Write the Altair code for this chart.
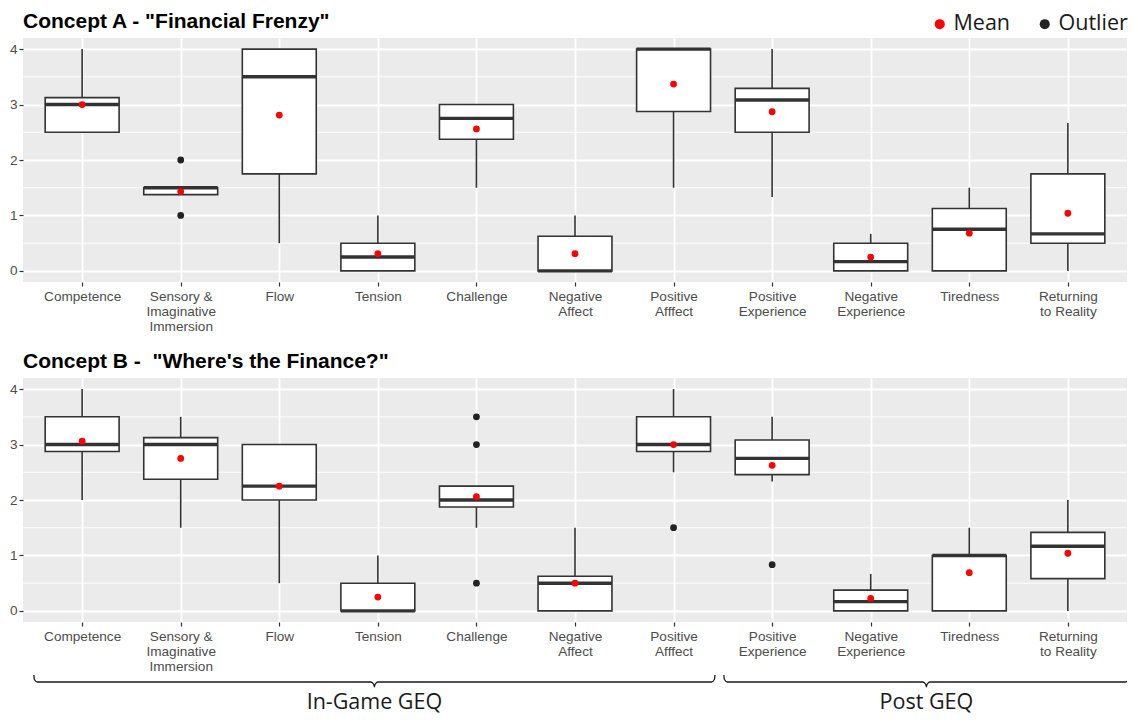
import json
import altair as alt
import pandas as pd

# ---------------- data ----------------
CATEGORIES = ["Competence", "Sensory &|Imaginative|Immersion", "Flow", "Tension", "Challenge",
              "Negative|Affect", "Positive|Afffect", "Positive|Experience", "Negative|Experience",
              "Tiredness", "Returning|to Reality"]
GROUPS = ["In-Game GEQ"] * 7 + ["Post GEQ"] * 4
Y_TICKS = [0, 1, 2, 3, 4]
Y_MINOR = [0.5, 1.5, 2.5, 3.5]

A_TITLE = 'Concept A - "Financial Frenzy"'
A_LOWER = [2.5, 1.375, 0.5, 0.0, 1.5, 0.0, 1.5, 1.333, 0.0, 0.0, 0.0]
A_Q1 = [2.5, 1.375, 1.75, 0.0, 2.375, 0.0, 2.875, 2.5, 0.0, 0.0, 0.5]
A_MEDIAN = [3.0, 1.5, 3.5, 0.25, 2.75, 0.0, 4.0, 3.083, 0.167, 0.75, 0.667]
A_Q3 = [3.125, 1.5, 4.0, 0.5, 3.0, 0.625, 4.0, 3.292, 0.5, 1.125, 1.75]
A_UPPER = [4.0, 1.5, 4.0, 1.0, 3.0, 1.0, 4.0, 4.0, 0.667, 1.5, 2.667]
A_MEAN = [3.0, 1.43, 2.81, 0.31, 2.56, 0.31, 3.37, 2.87, 0.25, 0.68, 1.04]
A_OUTLIER_CAT = ["Sensory &|Imaginative|Immersion", "Sensory &|Imaginative|Immersion"]
A_OUTLIER_VAL = [2.0, 1.0]

B_TITLE = 'Concept B - \u00a0"Where\'s the Finance?"'
B_LOWER = [2.0, 1.5, 0.5, 0.0, 1.5, 0.0, 2.5, 2.333, 0.0, 0.0, 0.0]
B_Q1 = [2.875, 2.375, 2.0, 0.0, 1.875, 0.0, 2.875, 2.458, 0.0, 0.0, 0.583]
B_MEDIAN = [3.0, 3.0, 2.25, 0.0, 2.0, 0.5, 3.0, 2.75, 0.167, 1.0, 1.167]
B_Q3 = [3.5, 3.125, 3.0, 0.5, 2.25, 0.625, 3.5, 3.083, 0.375, 1.0, 1.417]
B_UPPER = [4.0, 3.5, 3.0, 1.0, 2.25, 1.5, 4.0, 3.5, 0.667, 1.5, 2.0]
B_MEAN = [3.06, 2.75, 2.25, 0.25, 2.06, 0.5, 3.0, 2.625, 0.225, 0.69, 1.04]
B_OUTLIER_CAT = ["Challenge", "Challenge", "Challenge", "Positive|Afffect", "Positive|Experience"]
B_OUTLIER_VAL = [3.5, 3.0, 0.5, 1.5, 0.833]

# ---------------- layout / style ----------------
W = 1104
H = 244
BG = "#EBEBEB"
DARK = "#333333"
XDOM = [0.4, len(CATEGORIES) + 0.6]
IDX = list(range(1, len(CATEGORIES) + 1))
# brace end nudges (start, end) in category units
BRACE_NUDGE = {"In-Game GEQ": (0.01, -0.08), "Post GEQ": (0.01, 0.12)}

label_expr = "split(" + json.dumps(CATEGORIES) + "[datum.value - 1], '|')"

x_axis = alt.Axis(values=IDX, labelExpr=label_expr, title=None, grid=True, gridColor="white",
                  gridWidth=1.8, domain=False, tickColor=DARK, tickSize=4, tickWidth=1.2,
                  labelColor="#4d4d4d", labelFontSize=13.6, labelFont="Liberation Sans",
                  labelLineHeight=15.3, labelPadding=3, labelBaseline="top")
y_axis = alt.Axis(values=Y_TICKS, title=None, grid=True, gridColor="white", gridWidth=1.8,
                  domain=False, tickColor=DARK, tickSize=4, tickWidth=1.2,
                  labelColor="#4d4d4d", labelFontSize=13.6, labelFont="Liberation Sans",
                  labelPadding=2)
xs = alt.Scale(domain=XDOM, nice=False, zero=False)
ys = alt.Scale(domain=[-0.2, 4.2], nice=False, zero=False)


def panel(title, lo, q1, med, q3, hi, mean, out_cat, out_val):
    box = pd.DataFrame({"idx": IDX, "lo": lo, "q1": q1, "med": med, "q3": q3, "hi": hi})
    pts = pd.concat([
        pd.DataFrame({"idx": IDX, "val": mean, "kind": "Mean"}),
        pd.DataFrame({"idx": [CATEGORIES.index(c) + 1 for c in out_cat], "val": out_val,
                      "kind": "Outlier"}),
    ])
    minor = pd.DataFrame({"v": Y_MINOR})

    base = alt.Chart(box).transform_calculate(left="datum.idx - 0.375", right="datum.idx + 0.375")

    minor_grid = alt.Chart(minor).mark_rule(color="white", strokeWidth=0.9).encode(
        y=alt.Y("v:Q", scale=ys, axis=y_axis),
        x=alt.value(0), x2=alt.value(W))
    whisk = base.mark_rule(color=DARK, strokeWidth=1.6).encode(
        x=alt.X("idx:Q", scale=xs, axis=x_axis),
        y=alt.Y("lo:Q", scale=ys, axis=y_axis), y2="hi:Q")
    rect = base.mark_rect(fill="white", stroke=DARK, strokeWidth=1.6).encode(
        x=alt.X("left:Q", scale=xs, axis=x_axis), x2="right:Q",
        y=alt.Y("q1:Q", scale=ys, axis=y_axis), y2="q3:Q")
    median = base.mark_rule(color=DARK, strokeWidth=3.4).encode(
        x=alt.X("left:Q", scale=xs, axis=x_axis), x2="right:Q",
        y=alt.Y("med:Q", scale=ys, axis=y_axis))
    points = alt.Chart(pts).mark_circle(opacity=1, size=46).encode(
        x=alt.X("idx:Q", scale=xs, axis=x_axis),
        y=alt.Y("val:Q", scale=ys, axis=y_axis),
        color=alt.Color("kind:N",
                        scale=alt.Scale(domain=["Mean", "Outlier"], range=["#ff0000", "#222222"]),
                        legend=alt.Legend(title=None, orient="none", legendX=W - 198, legendY=-25,
                                          direction="horizontal", labelFont="Open Sans",
                                          labelFontSize=21.5, labelColor="#1a1a1a",
                                          symbolSize=100, symbolType="circle",
                                          symbolStrokeWidth=0, columnPadding=23,
                                          labelOffset=3)))
    return alt.layer(minor_grid, whisk, rect, median, points).properties(
        width=W, height=H,
        title=alt.Title(title, anchor="start", frame="group", fontSize=21,
                        font="Liberation Sans", fontWeight="bold", color="black", offset=6),
        view=alt.ViewBackground(fill=BG, stroke=None))


chart_a = panel(A_TITLE, A_LOWER, A_Q1, A_MEDIAN, A_Q3, A_UPPER, A_MEAN, A_OUTLIER_CAT, A_OUTLIER_VAL)
chart_b = panel(B_TITLE, B_LOWER, B_Q1, B_MEDIAN, B_Q3, B_UPPER, B_MEAN, B_OUTLIER_CAT, B_OUTLIER_VAL)

# ---------------- group braces ----------------
rows = []
texts = []
for g in dict.fromkeys(GROUPS):
    members = [i + 1 for i, gg in enumerate(GROUPS) if gg == g]
    ns, ne = BRACE_NUDGE[g]
    s = members[0] - 0.5 + ns
    e = members[-1] + 0.5 + ne
    m = (s + e) / 2
    shape = [(s, 1), (s + 0.006, 5.5), (s + 0.035, 8), (m - 0.035, 8), (m - 0.006, 10.5),
             (m, 13), (m + 0.006, 10.5), (m + 0.035, 8), (e - 0.035, 8), (e - 0.006, 5.5), (e, 1)]
    for k, (bx, by) in enumerate(shape):
        rows.append({"group": g, "order": k, "bx": bx, "by": by})
    texts.append({"group": g, "mid": m})
braces = pd.DataFrame(rows)
labels = pd.DataFrame(texts)

brace_lines = alt.Chart(braces).mark_line(color="#1a1a1a", strokeWidth=1.3, clip=True,
                                          interpolate="monotone").encode(
    x=alt.X("bx:Q", scale=xs, axis=None),
    y=alt.Y("by:Q", scale=None),
    detail="group:N", order="order:Q")
brace_text = alt.Chart(labels).mark_text(font="Open Sans", fontSize=21.5, color="#1a1a1a",
                                         baseline="middle").encode(
    x=alt.X("mid:Q", scale=xs, axis=None), y=alt.value(29), text="group:N")
chart_c = alt.layer(brace_lines, brace_text).properties(width=W, height=39)

panels = alt.vconcat(chart_a, chart_b, spacing=17)
chart = alt.vconcat(panels, chart_c, spacing=0).properties(
    padding={"left": 1, "top": 3, "right": 0, "bottom": 0}
).configure_view(stroke=None)

chart.save("out.html", embed_options={"renderer": "svg", "actions": False})
